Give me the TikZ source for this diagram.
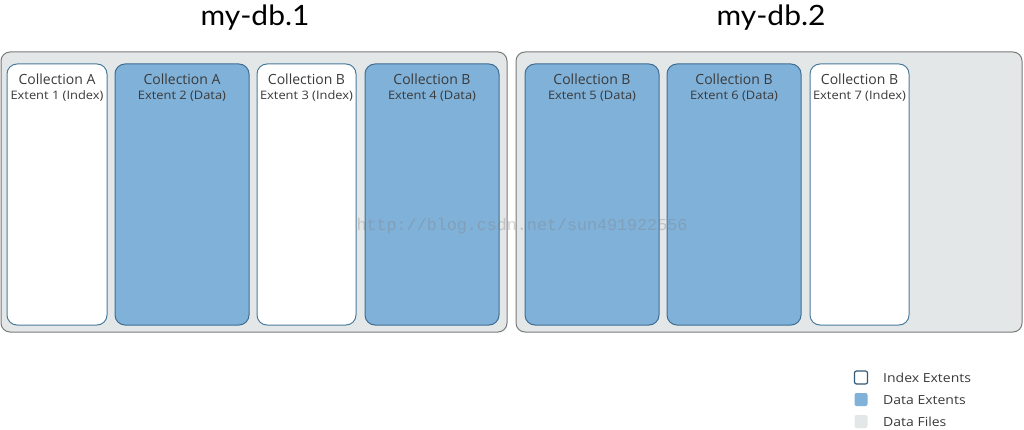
\documentclass[tikz,border=0pt]{standalone}
\usepackage{fontspec}
\setmainfont{Open Sans}
\newfontfamily\titlefont[FakeStretch=1.07]{Lato}
\newfontfamily\extfont[FakeStretch=1.1]{Open Sans}
\newfontfamily\legfont[FakeStretch=1.12]{Open Sans}
\setmonofont{Liberation Mono}
\definecolor{filebg}{HTML}{E4E7E8}
\definecolor{fileborder}{HTML}{7A7A7A}
\definecolor{datafill}{HTML}{80B1D9}
\definecolor{databorder}{HTML}{3F6E92}
\definecolor{idxborder}{HTML}{4A7C9C}
\definecolor{txt}{HTML}{3A3A3A}
\tikzset{
  filebox/.style={draw=fileborder, fill=filebg, line width=1pt, rounded corners=9pt, minimum width=506pt, minimum height=280pt, inner sep=0pt},
  idxbox/.style={draw=idxborder, fill=white, line width=1pt, rounded corners=10pt, minimum width=100pt, minimum height=261pt, inner sep=0pt},
  databox/.style={draw=databorder, fill=datafill, line width=1pt, rounded corners=10pt, minimum width=134pt, minimum height=261pt, inner sep=0pt},
  coll/.style={text=txt, font=\fontsize{14}{16}\selectfont, inner sep=0pt, anchor=base},
  ext/.style={text=txt, font=\extfont\fontsize{11.7}{13}\selectfont, inner sep=0pt, anchor=base},
  title/.style={text=black, font=\titlefont\fontsize{28}{30}\selectfont, inner sep=0pt, anchor=base},
  legsq/.style={minimum width=13pt, minimum height=13pt, inner sep=0pt, rounded corners=2pt},
  legtxt/.style={text=txt, font=\legfont\fontsize{12.5}{14}\selectfont, inner sep=0pt, anchor=base west},
  wm/.style={text=gray, opacity=0.35, font=\ttfamily\fontsize{16.7}{18}\selectfont, inner sep=0pt}
}
\begin{document}
\begin{tikzpicture}[x=1pt,y=-1pt]
\useasboundingbox[fill=white] (0,0) rectangle (1024,430);
% titles
\node[title] (t1) at (255,26) {my-db.1};
\node[title] (t2) at (771,26) {my-db.2};
% data files
\node[filebox] (f1) at (254,192) {};
\node[filebox] (f2) at (769,192) {};
% extents
\node[idxbox] (e1) at (57,194.5) {};
\node[databox] (e2) at (182,194.5) {};
\node[idxbox, minimum width=99pt] (e3) at (306.5,194.5) {};
\node[databox] (e4) at (432,194.5) {};
\node[databox] (e5) at (592,194.5) {};
\node[databox] (e6) at (734,194.5) {};
\node[idxbox, minimum width=99pt] (e7) at (859.5,194.5) {};
% labels
\node[coll] (c1) at ([yshift=-21pt]e1.north) {Collection A};
\node[ext] (x1) at ([yshift=-36pt]e1.north) {Extent 1 (Index)};
\node[coll] (c2) at ([yshift=-21pt]e2.north) {Collection A};
\node[ext] (x2) at ([yshift=-36pt]e2.north) {Extent 2 (Data)};
\node[coll] (c3) at ([yshift=-21pt]e3.north) {Collection B};
\node[ext] (x3) at ([yshift=-36pt]e3.north) {Extent 3 (Index)};
\node[coll] (c4) at ([yshift=-21pt]e4.north) {Collection B};
\node[ext] (x4) at ([yshift=-36pt]e4.north) {Extent 4 (Data)};
\node[coll] (c5) at ([yshift=-21pt]e5.north) {Collection B};
\node[ext] (x5) at ([yshift=-36pt]e5.north) {Extent 5 (Data)};
\node[coll] (c6) at ([yshift=-21pt]e6.north) {Collection B};
\node[ext] (x6) at ([yshift=-36pt]e6.north) {Extent 6 (Data)};
\node[coll] (c7) at ([yshift=-21pt]e7.north) {Collection B};
\node[ext] (x7) at ([yshift=-36pt]e7.north) {Extent 7 (Index)};
% watermark
\node[wm] (w) at (522,226) {http://blog.csdn.net/sun491922556};
% legend
\node[legsq, draw=databorder!80!black, fill=white, line width=1.2pt] (l1) at (861,377.5) {};
\node[legsq, fill=datafill] (l2) at (861,399.5) {};
\node[legsq, fill=filebg] (l3) at (861,421.5) {};
\node[legtxt] (lt1) at (883,382.5) {Index Extents};
\node[legtxt] (lt2) at (883,404.5) {Data Extents};
\node[legtxt] (lt3) at (883,426.5) {Data Files};
\end{tikzpicture}
\end{document}
